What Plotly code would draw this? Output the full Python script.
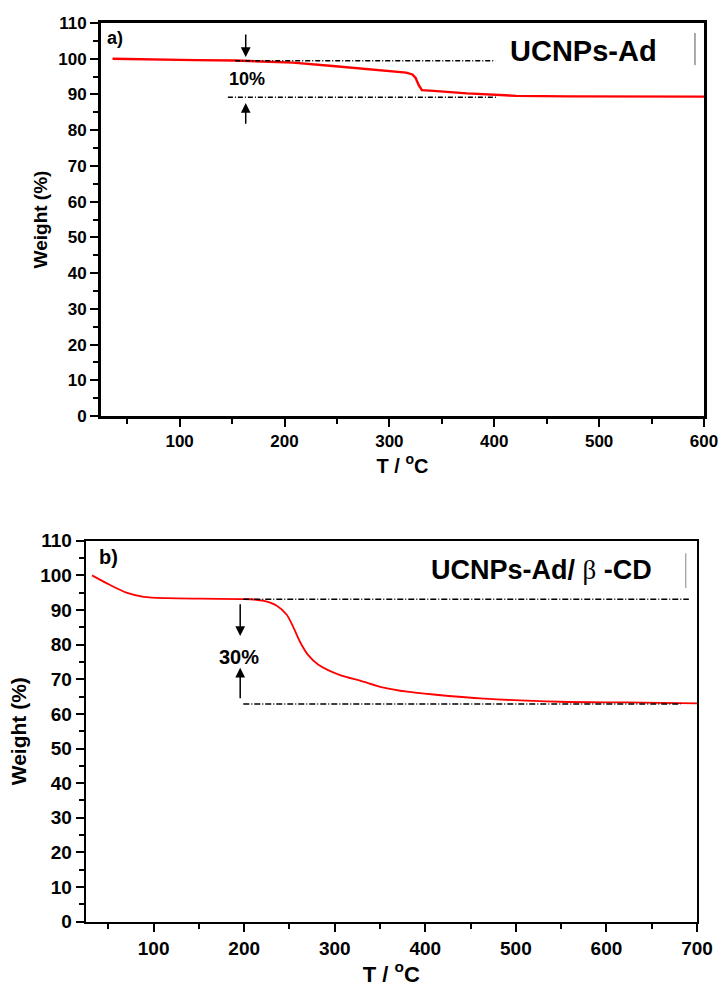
import plotly.graph_objects as go

# ---- TGA data -------------------------------------------------------------
# (a) UCNPs-Ad
temp_a = [36, 60, 115, 153, 208, 246, 284, 316, 322, 325, 328, 331, 342, 374, 421, 470, 600]
weight_a = [100.0, 99.85, 99.6, 99.5, 98.9, 97.95, 97.0, 96.1, 95.6, 94.6, 92.6, 91.2,
            91.0, 90.3, 89.6, 89.45, 89.4]

# (b) UCNPs-Ad/β-CD
temp_b = [32, 52, 70, 89, 115, 151, 196, 207, 222, 236, 247, 255, 262, 270, 282, 306,
          328, 354, 380, 409, 465, 549, 623, 700]
weight_b = [100.0, 97.2, 95.0, 93.8, 93.4, 93.25, 93.15, 93.1, 92.6, 91.2, 88.6, 84.6,
            80.6, 77.2, 74.2, 71.2, 69.6, 67.6, 66.4, 65.6, 64.4, 63.5, 63.3, 63.05]

# reference levels used to mark the mass loss
level_a = [99.45, 89.2]
level_a_x = [[153, 401], [146, 402]]
loss_a_label = "10%"

level_b = [93.1, 62.85]
level_b_x = [[199, 691], [199, 682]]
loss_b_label = "30%"

x_ticks_a = [100, 200, 300, 400, 500, 600]
x_ticks_b = [100, 200, 300, 400, 500, 600, 700]
y_ticks = list(range(0, 111, 10))

FONT = "Liberation Sans, Arial, sans-serif"
W, H = 722, 994

fig = go.Figure()

# curves
fig.add_trace(go.Scatter(x=temp_a, y=weight_a, mode="lines",
                         line=dict(color="#ff0000", width=2.4), xaxis="x", yaxis="y"))
fig.add_trace(go.Scatter(x=temp_b, y=weight_b, mode="lines",
                         line=dict(color="#ff0000", width=1.8, shape="spline", smoothing=0.8),
                         xaxis="x2", yaxis="y2"))

# dash-dot reference levels
for lvl, xs in zip(level_a, level_a_x):
    fig.add_trace(go.Scatter(x=xs, y=[lvl, lvl], mode="lines",
                             line=dict(color="black", width=1.5, dash="5px,2px,1px,2px"),
                             xaxis="x", yaxis="y"))
for lvl, xs in zip(level_b, level_b_x):
    fig.add_trace(go.Scatter(x=xs, y=[lvl, lvl], mode="lines",
                             line=dict(color="black", width=1.4, dash="6px,2px,1px,2px"),
                             xaxis="x2", yaxis="y2"))

annotations = []


def arrow(xref, yref, x, y_head, y_tail):
    return dict(x=x, y=y_head, ax=x, ay=y_tail, xref=xref, yref=yref,
                axref=xref, ayref=yref, showarrow=True, arrowhead=2,
                arrowsize=1.3, arrowwidth=1.5, arrowcolor="black", text="", standoff=0)


annotations += [
    arrow("x", "y", 163, level_a[0] + 1.0, 107.2),
    arrow("x", "y", 163, level_a[1] - 1.6, 81.4),
    arrow("x2", "y2", 195.6, 82.5, level_b[0] - 1.0),
    arrow("x2", "y2", 195.6, 73.3, level_b[1] + 1.2),
]

annotations += [
    dict(x=164.5, y=94.3, xref="x", yref="y", text=loss_a_label, showarrow=False,
         font=dict(family=FONT, size=18, color="black", weight="bold")),
    dict(x=194, y=76.3, xref="x2", yref="y2", text=loss_b_label, showarrow=False,
         font=dict(family=FONT, size=20, color="black", weight="bold")),
    dict(x=29, y=105.7, xref="x", yref="y", text="a)", showarrow=False, xanchor="left",
         font=dict(family=FONT, size=18, color="black", weight="bold")),
    dict(x=37, y=105.4, xref="x2", yref="y2", text="b)", showarrow=False, xanchor="left",
         font=dict(family=FONT, size=20, color="black", weight="bold")),
    dict(x=485, y=102.3, xref="x", yref="y", text="UCNPs-Ad", showarrow=False,
         font=dict(family=FONT, size=29, color="black", weight="bold")),
    dict(x=528, y=101.5, xref="x2", yref="y2",
         text="UCNPs-Ad/ <span style=\"font-family:'Liberation Serif';font-weight:normal\">β</span> -CD",
         showarrow=False, font=dict(family=FONT, size=27, color="black", weight="bold")),
]

# thin legend-frame remnants
shapes = [
    dict(type="line", xref="x", yref="y", x0=591.4, x1=591.4, y0=98.2, y1=107.2,
         line=dict(color="#555555", width=1)),
    dict(type="line", xref="x2", yref="y2", x0=687.6, x1=687.6, y0=96.3, y1=106.4,
         line=dict(color="#888888", width=1)),
]


def xaxis(dom, rng, ticks, lw, fsize, tsize):
    return dict(domain=dom, range=rng, tickvals=ticks, ticks="outside", ticklen=8,
                tickwidth=lw * 0.8, tickcolor="black", linecolor="black", linewidth=lw,
                mirror=True, showgrid=False, zeroline=False, automargin=False,
                minor=dict(dtick=50, tick0=0, ticks="outside", ticklen=5,
                           tickwidth=lw * 0.8, tickcolor="black"),
                tickfont=dict(family=FONT, size=fsize, color="black", weight="bold"),
                title=dict(text="T / <sup>o</sup>C", standoff=8,
                           font=dict(family=FONT, size=tsize, color="black", weight="bold")))


def yaxis(dom, lw, fsize, tsize, standoff):
    return dict(domain=dom, range=[0, 110], tickvals=y_ticks, ticks="outside", ticklen=8,
                tickwidth=lw * 0.8, tickcolor="black", linecolor="black", linewidth=lw,
                mirror=True, showgrid=False, zeroline=False, automargin=False,
                minor=dict(dtick=5, tick0=0, ticks="outside", ticklen=5,
                           tickwidth=lw * 0.8, tickcolor="black"),
                tickfont=dict(family=FONT, size=fsize, color="black", weight="bold"),
                title=dict(text="Weight (%)", standoff=standoff,
                           font=dict(family=FONT, size=tsize, color="black", weight="bold")))


fig.update_layout(
    width=W, height=H, margin=dict(l=0, r=0, t=0, b=0, autoexpand=False),
    paper_bgcolor="white", plot_bgcolor="white", showlegend=False,
    xaxis=dict(xaxis([101 / W, 704 / W], [25, 600], x_ticks_a, 3, 17, 20), anchor="y"),
    yaxis=dict(yaxis([1 - 416 / H, 1 - 23 / H], 3, 17, 19, 6), anchor="x"),
    xaxis2=dict(xaxis([85.7 / W, 697 / W], [25, 700], x_ticks_b, 2, 19, 22), anchor="y2"),
    yaxis2=dict(yaxis([1 - 921.7 / H, 1 - 540.7 / H], 2, 19, 21, 8), anchor="x2"),
    annotations=annotations, shapes=shapes,
)

fig.write_html("out.html")
